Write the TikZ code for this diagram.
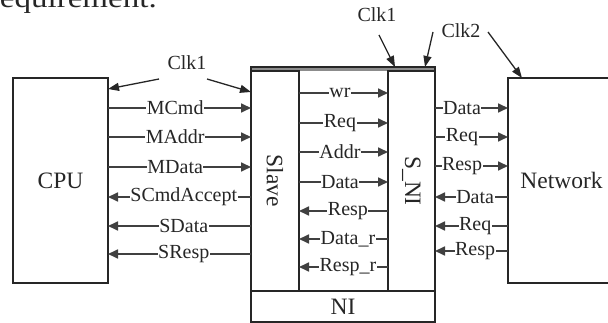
\documentclass[tikz,border=0pt]{standalone}
\usepackage{fontspec}
\setmainfont{Liberation Serif}
\usetikzlibrary{arrows.meta}
\begin{document}
\begin{tikzpicture}[x=1pt,y=-1pt,
  box/.style={draw=black!85,line width=1.5pt,inner sep=0pt,outer sep=0pt,anchor=north west},
  big/.style={font=\fontsize{23.5}{26}\selectfont,text=black!85},
  lab/.style={font=\fontsize{20}{22}\selectfont,text=black!85,fill=white,inner sep=0.5pt},
  sig/.style={draw=black!75,line width=1.7pt},
  fwd/.style={sig,-{Triangle[length=10pt,width=9pt]}},
  bwd/.style={sig,{Triangle[length=10pt,width=9pt]}-},
  clk/.style={draw=black!85,line width=1.3pt,-{Triangle[length=11pt,width=8pt]}},
  clklab/.style={font=\fontsize{20}{22}\selectfont,text=black!85,inner sep=0pt}]
\useasboundingbox (0,0) rectangle (608,323);

\node[anchor=base east,inner sep=0pt,font=\fontsize{28}{30}\selectfont,text=black!85] (cap) at (157,8) {\scalebox{1.18}[1]{equirement.}};

% boxes
\fill[black!45] (251,67) rectangle (435,71);
\node[box,big,minimum width=95pt,minimum height=205pt] (cpu) at (13,78) {CPU};
\node[box,minimum width=184pt,minimum height=255pt] (ni) at (251,67) {};
\node[box,minimum width=48pt,minimum height=220pt] (slave) at (251,71) {};
\node[big,rotate=-90] (slavelab) at (slave.center) {Slave};
\node[box,minimum width=47pt,minimum height=220pt] (sni) at (388,71) {};
\node[big,rotate=-90] (snilab) at (sni.center) {S\_NI};
\node[box,big,minimum width=184pt,minimum height=31pt] (nilab) at (251,291) {NI};
\node[box,big,minimum width=107pt,minimum height=205pt] (net) at (508,78) {Network};

% clocks
\node[clklab] (clka) at (187,63) {Clk1};
\node[clklab] (clkb) at (377,15) {Clk1};
\node[clklab] (clkc) at (461,31) {Clk2};
\coordinate (ca1) at (159,79);
\coordinate (ca2) at (207,79);
\coordinate (cb1) at (379,35);
\coordinate (cc1) at (433,32);
\coordinate (cc2) at (488,32);
\draw[clk] (ca1) -- (cpu.east |- 0,89);
\draw[clk] (ca2) -- (slave.west |- 0,92);
\draw[clk] (cb1) -- (ni.north -| 395,0);
\draw[clk] (cc1) -- (ni.north -| 425,0);
\draw[clk] (cc2) -- (net.north -| 522,0);

% CPU <-> Slave
\draw[fwd] (cpu.east |- 0,108) -- node[lab,pos=.47]{MCmd} (slave.west |- 0,108);
\draw[fwd] (cpu.east |- 0,137) -- node[lab,pos=.47]{MAddr} (slave.west |- 0,137);
\draw[fwd] (cpu.east |- 0,167) -- node[lab,pos=.47]{MData} (slave.west |- 0,167);
\draw[bwd] (cpu.east |- 0,197) -- node[lab,pos=.53]{SCmdAccept} (slave.west |- 0,197);
\draw[bwd] (cpu.east |- 0,226) -- node[lab,pos=.53]{SData} (slave.west |- 0,226);
\draw[bwd] (cpu.east |- 0,254) -- node[lab,pos=.53]{SResp} (slave.west |- 0,254);

% Slave <-> S_NI
\draw[fwd] (slave.east |- 0,93) -- node[lab,pos=.46]{wr} (sni.west |- 0,93);
\draw[fwd] (slave.east |- 0,123) -- node[lab,pos=.46]{Req} (sni.west |- 0,123);
\draw[fwd] (slave.east |- 0,152) -- node[lab,pos=.46]{Addr} (sni.west |- 0,152);
\draw[fwd] (slave.east |- 0,182) -- node[lab,pos=.46]{Data} (sni.west |- 0,182);
\draw[bwd] (slave.east |- 0,211) -- node[lab,pos=.55]{Resp} (sni.west |- 0,211);
\draw[bwd] (slave.east |- 0,239) -- node[lab,pos=.55]{Data\_r} (sni.west |- 0,239);
\draw[bwd] (slave.east |- 0,267) -- node[lab,pos=.55]{Resp\_r} (sni.west |- 0,267);

% S_NI <-> Network
\draw[fwd] (sni.east |- 0,108) -- node[lab,pos=.37]{Data} (net.west |- 0,108);
\draw[fwd] (sni.east |- 0,137) -- node[lab,pos=.37]{Req} (net.west |- 0,137);
\draw[fwd] (sni.east |- 0,166) -- node[lab,pos=.37]{Resp} (net.west |- 0,166);
\draw[bwd] (sni.east |- 0,197) -- node[lab,pos=.55]{Data} (net.west |- 0,197);
\draw[bwd] (sni.east |- 0,226) -- node[lab,pos=.55]{Req} (net.west |- 0,226);
\draw[bwd] (sni.east |- 0,251) -- node[lab,pos=.55]{Resp} (net.west |- 0,251);
\end{tikzpicture}
\end{document}
